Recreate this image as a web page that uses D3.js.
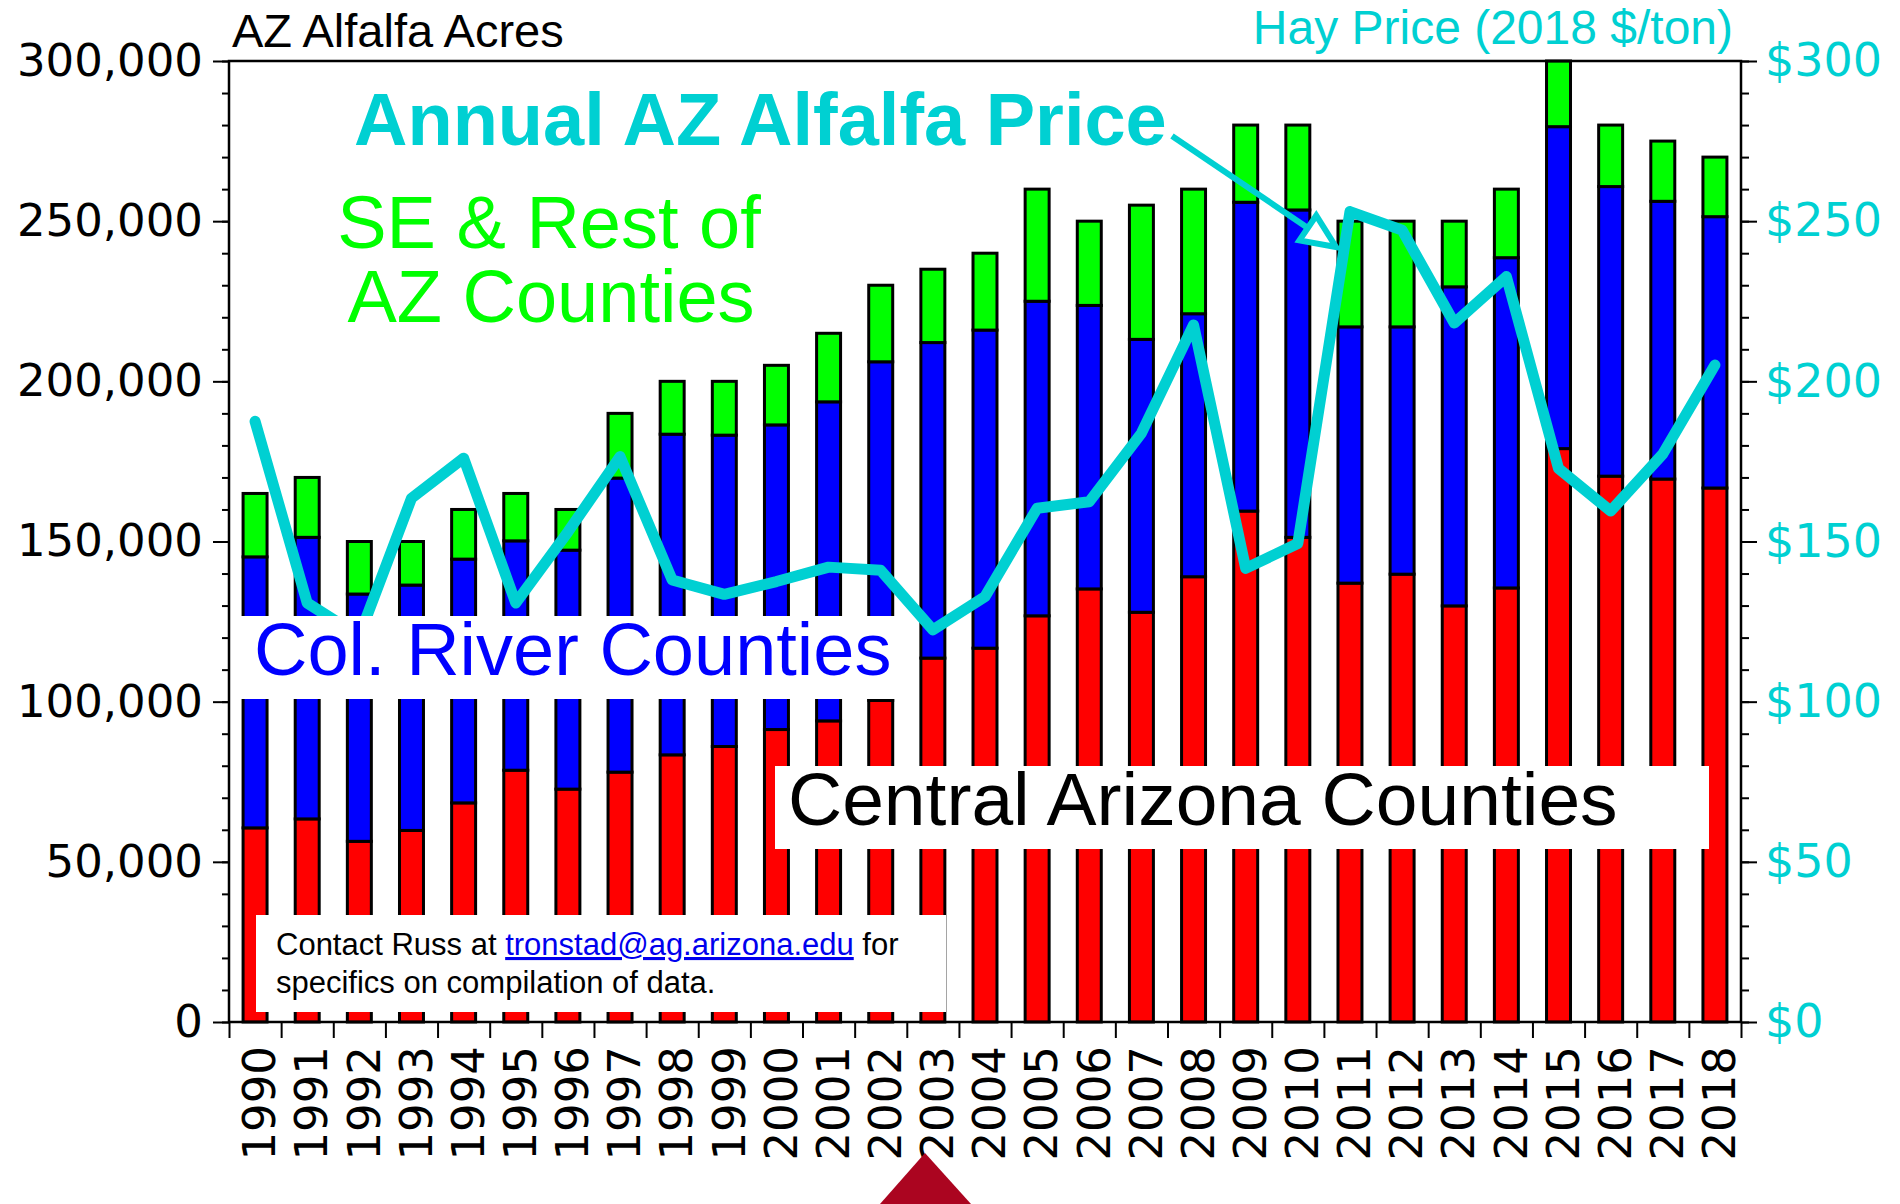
<!DOCTYPE html>
<html>
<head>
<meta charset="utf-8">
<script src="https://cdn.jsdelivr.net/npm/d3@7"></script>
<style>
  body { margin: 0; background: #fff; }
</style>
</head>
<body>
<div id="chart"></div>
<script>
// acres, by region
var years = [1990, 1991, 1992, 1993, 1994, 1995, 1996, 1997, 1998, 1999,
             2000, 2001, 2002, 2003, 2004, 2005, 2006, 2007, 2008, 2009,
             2010, 2011, 2012, 2013, 2014, 2015, 2016, 2017, 2018];
var centralAcres = [60600, 63400, 56400, 59800, 68400, 78600, 72700, 78000, 83400, 86000,
                    91300, 94000, 100400, 113600, 116700, 126800, 135200, 127900, 139000, 159500,
                    151300, 137000, 139800, 129900, 135500, 179000, 170400, 169500, 166700];
var colRiverAcres = [84600, 87900, 77200, 76600, 76100, 71600, 74600, 91800, 100100, 97200,
                     95100, 99600, 105700, 98500, 99300, 98200, 88500, 85200, 82100, 96400,
                     102200, 80000, 77200, 99600, 103100, 100500, 90400, 86700, 84700];
var otherAcres = [19800, 18700, 16400, 13600, 15500, 14800, 12700, 20200, 16500, 16800,
                  18600, 21400, 23900, 22900, 24000, 35000, 26300, 41900, 38900, 24100,
                  26500, 33000, 33000, 20500, 21400, 20500, 19200, 18800, 18600];
// hay price, 2018 $/ton
var hayPrice = [187.5, 130.8, 120.5, 163.5, 176, 130.8, 153, 176.5, 138, 133.5,
                137.5, 142, 141, 122.4, 132.8, 160.4, 162.4, 183.8, 217.6, 141.6,
                149.4, 253, 247.2, 218.2, 232.7, 172.8, 159.5, 177.3, 205.1];
var acreTicks = [0, 50000, 100000, 150000, 200000, 250000, 300000];
var priceTicks = [0, 50, 100, 150, 200, 250, 300];

var width = 1900, height = 1204,
    margin = {top: 61, right: 159, bottom: 182, left: 229};
var x0 = margin.left, x1 = width - margin.right,
    y0 = height - margin.bottom, y1 = margin.top;

var cyan = "#00d0d2";
var helv = "'Liberation Sans', Arial, Helvetica, sans-serif";
var lucida = "'DejaVu Sans', sans-serif";

var svg = d3.select("#chart").append("svg").attr("width", width).attr("height", height);

var x = d3.scaleBand().domain(years).range([x0, x1]).paddingInner(0.54).paddingOuter(0.27);
var xEdge = d3.scaleLinear().domain([0, years.length]).range([x0, x1]);
var yL = d3.scaleLinear().domain([0, 300000]).range([y0, y1]);
var yR = d3.scaleLinear().domain([0, 300]).range([y0, y1]);

var table = years.map((yr, i) => ({year: yr, central: centralAcres[i], colRiver: colRiverAcres[i], other: otherAcres[i]}));
var stack = d3.stack().keys(["central", "colRiver", "other"])(table);
var colors = {central: "#ff0000", colRiver: "#0000ff", other: "#00ff00"};

// bars
svg.append("g").selectAll("g")
    .data(stack)
    .enter().append("g")
    .style("fill", d => colors[d.key])
    .selectAll("rect")
    .data(d => d)
    .enter().append("rect")
    .attr("x", d => x(d.data.year))
    .attr("y", d => yL(d[1]))
    .attr("width", x.bandwidth())
    .attr("height", d => yL(d[0]) - yL(d[1]))
    .style("stroke", "#000").style("stroke-width", 3);

// price line
var line = d3.line()
    .x((d, i) => x(years[i]) + x.bandwidth() / 2)
    .y(d => yR(d));
svg.append("path").datum(hayPrice)
    .attr("d", line)
    .style("fill", "none").style("stroke", cyan).style("stroke-width", 11)
    .style("stroke-linejoin", "round").style("stroke-linecap", "round");

// axes
function styleAxis(g) {
    g.select(".domain").remove();
    g.selectAll("line").style("stroke", "#000").style("stroke-width", 2);
}
svg.append("g").attr("transform", "translate(" + x0 + ",0)")
    .call(d3.axisLeft(yL).tickValues(d3.range(0, 300001, 10000)).tickSize(7).tickFormat(""))
    .call(styleAxis);
svg.append("g").attr("transform", "translate(" + x0 + ",0)")
    .call(d3.axisLeft(yL).tickValues(acreTicks).tickSize(16).tickPadding(10).tickFormat(d3.format(",")))
    .call(styleAxis)
    .selectAll("text").style("font", "45px " + lucida).style("fill", "#000");

svg.append("g").attr("transform", "translate(" + x1 + ",0)")
    .call(d3.axisRight(yR).tickValues(d3.range(0, 301, 10)).tickSize(8).tickFormat(""))
    .call(styleAxis);
svg.append("g").attr("transform", "translate(" + x1 + ",0)")
    .call(d3.axisRight(yR).tickValues(priceTicks).tickSize(16).tickPadding(8).tickFormat(d => "$" + d))
    .call(styleAxis)
    .selectAll("text").style("font", "46px " + lucida).style("fill", cyan);

svg.append("g").attr("transform", "translate(0," + y0 + ")")
    .call(d3.axisBottom(xEdge).tickValues(d3.range(0, years.length + 1)).tickSize(16).tickFormat(""))
    .call(styleAxis);

svg.append("g").selectAll("text")
    .data(years)
    .enter().append("text")
    .attr("transform", d => "translate(" + (x(d) + x.bandwidth() / 2) + "," + (y0 + 24) + ") rotate(-90)")
    .attr("dy", "0.45em")
    .style("text-anchor", "end")
    .style("font", "45px " + lucida)
    .text(d => d);

// frame
svg.append("path")
    .attr("d", "M" + x0 + "," + y0 + "V" + y1 + "H" + x1 + "V" + y0 + "Z")
    .style("fill", "none").style("stroke", "#000").style("stroke-width", 2.5);

// titles
svg.append("text").attr("x", x0 + 3).attr("y", 47)
    .style("font", "47px " + helv).text("AZ Alfalfa Acres");
svg.append("text").attr("x", 1733).attr("y", 44)
    .style("font", "48px " + helv).style("fill", cyan).style("text-anchor", "end")
    .text("Hay Price (2018 $/ton)");

// labels
svg.append("text").attr("x", 354).attr("y", 145)
    .style("font", "bold 74px " + helv).style("fill", cyan)
    .text("Annual AZ Alfalfa Price");

var ax = 1172, ay = 136, bx = 1336, by = 247;
var ang = Math.atan2(by - ay, bx - ax), hl = 34, hw = 15;
svg.append("line").attr("x1", ax).attr("y1", ay)
    .attr("x2", bx - hl * Math.cos(ang)).attr("y2", by - hl * Math.sin(ang))
    .style("stroke", cyan).style("stroke-width", 6);
var hbx = bx - hl * Math.cos(ang), hby = by - hl * Math.sin(ang);
svg.append("polygon")
    .attr("points", [[bx, by],
        [hbx + hw * Math.sin(ang), hby - hw * Math.cos(ang)],
        [hbx - hw * Math.sin(ang), hby + hw * Math.cos(ang)]].map(p => p.join(",")).join(" "))
    .style("fill", "#fff").style("stroke", cyan).style("stroke-width", 6)
    .style("stroke-linejoin", "miter");

var se = svg.append("text").style("font", "74px " + helv).style("fill", "#00ff00")
    .style("text-anchor", "middle");
se.append("tspan").attr("x", 549).attr("y", 248).text("SE & Rest of");
se.append("tspan").attr("x", 551).attr("y", 322).text("AZ Counties");

svg.append("rect").attr("x", 241).attr("y", 616).attr("width", 662).attr("height", 83).style("fill", "#fff");
svg.append("text").attr("x", 254).attr("y", 675)
    .style("font", "74px " + helv).style("fill", "#0000ff")
    .text("Col. River Counties");

svg.append("rect").attr("x", 775).attr("y", 766).attr("width", 934).attr("height", 83).style("fill", "#fff");
svg.append("text").attr("x", 788).attr("y", 825)
    .style("font", "75px " + helv).style("fill", "#000")
    .text("Central Arizona Counties");

svg.append("rect").attr("x", 256).attr("y", 915).attr("width", 690).attr("height", 97).style("fill", "#fff");
var note = svg.append("text").style("font", "31px " + helv).style("fill", "#000");
var l1 = note.append("tspan").attr("x", 276).attr("y", 955);
l1.append("tspan").text("Contact Russ at ");
l1.append("tspan").style("fill", "#0000ee").style("text-decoration", "underline").text("tronstad@ag.arizona.edu");
l1.append("tspan").text(" for");
note.append("tspan").attr("x", 276).attr("y", 993).text("specifics on compilation of data.");

// marker at the bottom
svg.append("path")
    .attr("d", "M925,1153L971,1204H880Z")
    .style("fill", "#ab0520");
</script>
</body>
</html>
